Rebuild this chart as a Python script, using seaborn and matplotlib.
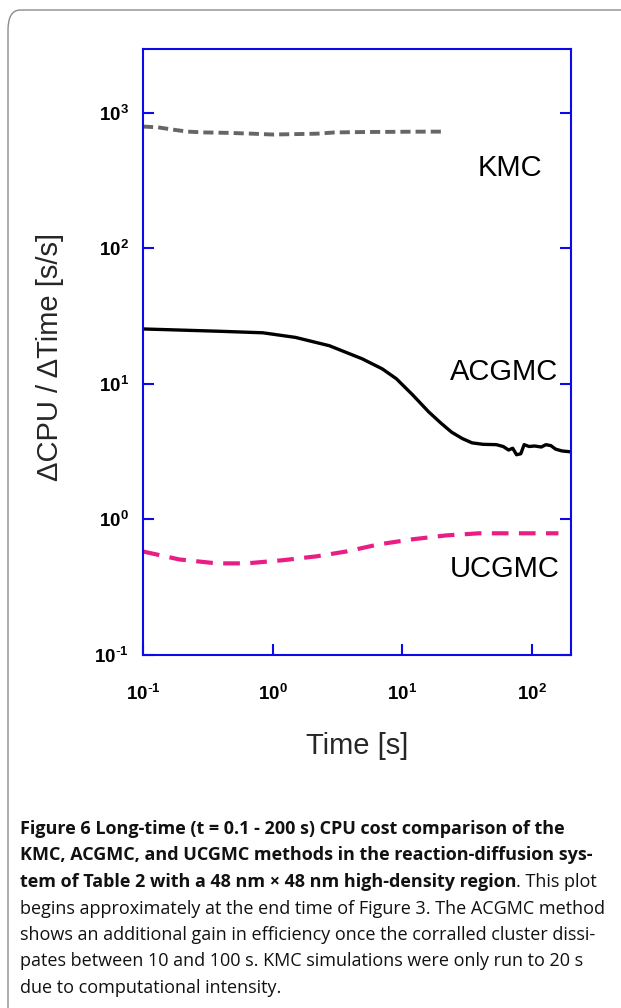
import numpy as np
import pandas as pd
import matplotlib
matplotlib.use("Agg")
import matplotlib.pyplot as plt
import seaborn as sns
from matplotlib.patches import FancyBboxPatch
from matplotlib.ticker import FixedLocator, FuncFormatter, NullLocator

# values (time in s, cost in s/s)
kmc_t = [0.1, 0.13, 0.17, 0.22, 0.3, 0.45, 0.7, 1.0, 1.5, 2.2, 3.0, 5.0, 8.0, 12.0, 20.0]
kmc_v = [790, 780, 750, 725, 715, 710, 700, 690, 695, 700, 715, 720, 722, 724, 725]

acgmc_t = [0.1, 0.2, 0.4, 0.84, 1.5, 2.74, 4.9, 7.0, 9.0, 12.0, 16.0, 20.0, 24.0, 29.0,
           34.5, 42.0, 53.0, 60.0, 66.0, 71.0, 76.0, 82.0, 87.0, 95.0, 105.0, 118.0,
           128.0, 140.0, 152.0, 170.0, 200.0]
acgmc_v = [25.4, 24.9, 24.4, 23.8, 22.0, 19.1, 15.3, 12.9, 10.9, 8.3, 6.2, 5.1, 4.4, 3.95,
           3.67, 3.58, 3.56, 3.45, 3.25, 3.35, 3.0, 3.05, 3.56, 3.45, 3.48, 3.42,
           3.56, 3.5, 3.3, 3.2, 3.15]

ucgmc_t = [0.1, 0.19, 0.37, 0.63, 1.19, 2.17, 3.7, 6.6, 11.9, 21.7, 39.0, 80.0, 143.0, 160.0]
ucgmc_v = [0.58, 0.507, 0.474, 0.474, 0.50, 0.534, 0.58, 0.655, 0.713, 0.762, 0.79, 0.79, 0.79, 0.79]

x_ticks = [0.1, 1, 10, 100]
y_ticks = [0.1, 1, 10, 100, 1000]

caption_lines = [
    ("Figure 6 Long-time (t = 0.1 - 200 s) CPU cost comparison of the", ""),
    ("KMC, ACGMC, and UCGMC methods in the reaction-diffusion sys-", ""),
    ("tem of Table 2 with a 48 nm \u00d7 48 nm high-density region", ". This plot"),
    ("", "begins approximately at the end time of Figure 3. The ACGMC method"),
    ("", "shows an additional gain in efficiency once the corralled cluster dissi-"),
    ("", "pates between 10 and 100 s. KMC simulations were only run to 20 s"),
    ("", "due to computational intensity."),
]

BLUE = "#0a0aeb"

sns.set_theme(style="white")
plt.rcParams.update({
    "font.family": ["Liberation Sans", "DejaVu Sans"],
    "axes.edgecolor": BLUE,
    "axes.linewidth": 1.5,
    "axes.unicode_minus": False,
})

kmc = pd.DataFrame({"t": kmc_t, "v": kmc_v})
acgmc = pd.DataFrame({"t": acgmc_t, "v": acgmc_v})
ucgmc = pd.DataFrame({"t": ucgmc_t, "v": ucgmc_v})

fig = plt.figure(figsize=(6.21, 10.08), dpi=100)
ax = fig.add_axes([0.2303, 0.3502, 0.6892, 0.6012])
ax.set_xscale("log")
ax.set_yscale("log")

sns.lineplot(data=kmc, x="t", y="v", ax=ax, color="#666666", linewidth=2.8,
             linestyle=(0, (2.6, 1.3)), errorbar=None, sort=False)
sns.lineplot(data=acgmc, x="t", y="v", ax=ax, color="black", linewidth=2.4,
             errorbar=None, sort=False)
sns.lineplot(data=ucgmc, x="t", y="v", ax=ax, color="#e91e84", linewidth=3.0,
             linestyle=(0, (4.0, 2.5)), errorbar=None, sort=False)

ax.set_xlim(0.1, 200)
ax.set_ylim(0.1, 2950)


def decade(v, _):
    e = int(round(np.log10(v)))
    sup = r"\text{-}%d" % -e if e < 0 else "%d" % e
    return r"$\mathregular{10^{%s}}$" % sup


fmt = FuncFormatter(decade)
ax.xaxis.set_major_locator(FixedLocator(x_ticks))
ax.yaxis.set_major_locator(FixedLocator(y_ticks))
ax.xaxis.set_minor_locator(NullLocator())
ax.yaxis.set_minor_locator(NullLocator())
ax.xaxis.set_major_formatter(fmt)
ax.yaxis.set_major_formatter(fmt)
ax.tick_params(axis="both", which="major", direction="in", length=8, width=1.5,
               color=BLUE, labelsize=13.5, labelcolor="black")
ax.tick_params(axis="y", left=True, right=True, pad=10)
ax.tick_params(axis="x", bottom=True, top=False, pad=21)
for lab in ax.get_xticklabels() + ax.get_yticklabels():
    lab.set_fontweight("bold")
for s in ax.spines.values():
    s.set_color(BLUE)
    s.set_linewidth(1.5)

ax.set_xlabel("Time [s]", fontsize=21)
ax.set_ylabel("\u0394CPU / \u0394Time [s/s]", fontsize=21)
ax.xaxis.label.set_va("center")
ax.yaxis.label.set_va("center")
ax.xaxis.set_label_coords(0.5, -0.1505)
ax.yaxis.set_label_coords(-0.217, 0.492)

for name, (x, y) in {"KMC": (0.857, 0.804), "ACGMC": (0.843, 0.467),
                     "UCGMC": (0.846, 0.142)}.items():
    ax.text(x, y, name, transform=ax.transAxes, ha="center", va="center",
            fontsize=21, color="black")

# caption under the chart
cap_font = ["Open Sans", "DejaVu Sans"]
cap_size = 13
for i, (bold, regular) in enumerate(caption_lines):
    y = 1 - (829 + i * 26.5) / 1008
    if bold:
        tb = fig.text(20 / 621, y, bold, ha="left", va="center", fontsize=cap_size,
                      fontweight="bold", family=cap_font, color="#111111")
        if regular:
            ax.annotate(regular, xy=(1, 0), xycoords=tb, ha="left", va="bottom",
                        fontsize=cap_size, family=cap_font, color="#111111",
                        annotation_clip=False)
    else:
        fig.text(20 / 621, y, regular, ha="left", va="center", fontsize=cap_size,
                 family=cap_font, color="#111111")

# rounded frame around the figure (runs off the right and bottom edges)
frame = FancyBboxPatch((8 / 621, -0.05), 1.2, 1 - 10 / 1008 + 0.05,
                       boxstyle="round,pad=0,rounding_size=0.02",
                       transform=fig.transFigure, facecolor="none",
                       edgecolor="#8c8c8c", linewidth=1.0, clip_on=False)
fig.patches.append(frame)

fig.savefig("out.png", dpi=100, facecolor="white")
